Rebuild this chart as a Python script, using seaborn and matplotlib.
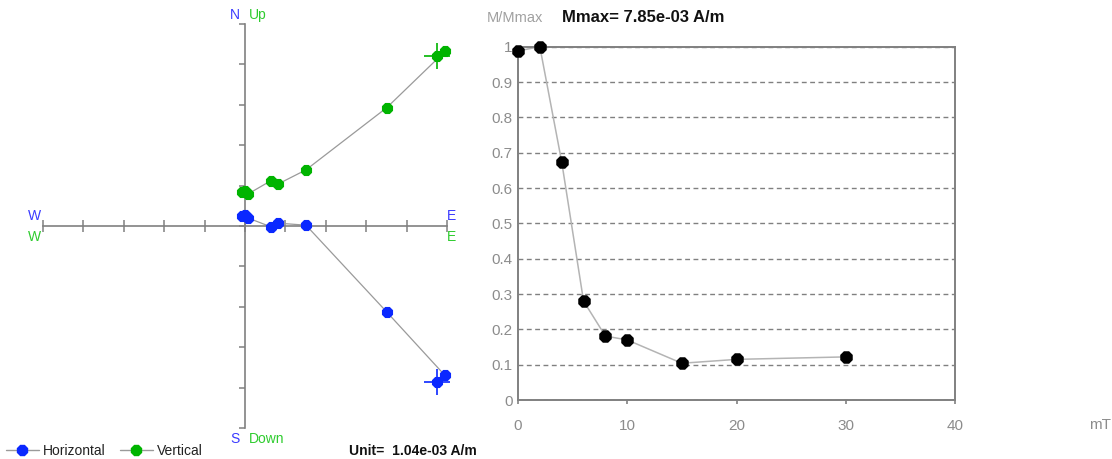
import numpy as np
import pandas as pd
import seaborn as sns
import matplotlib.pyplot as plt
from matplotlib.lines import Line2D

# demagnetisation steps (mT) and normalised intensity
steps_mt = [0, 2, 4, 6, 8, 10, 15, 20, 30]
m_norm = [0.988, 1.0, 0.674, 0.280, 0.181, 0.170, 0.104, 0.115, 0.122]

# Zijderveld components, in units of 1.04e-03 A/m
east = [4.75, 4.95, 3.51, 1.51, 0.82, 0.64, 0.07, -0.07, 0.0]
north = [-3.87, -3.70, -2.13, 0.02, 0.07, -0.02, 0.20, 0.25, 0.27]
up = [4.22, 4.32, 2.93, 1.39, 1.04, 1.12, 0.79, 0.84, 0.87]

zij_ticks = list(range(-5, 6))
y_ticks = [0, 0.1, 0.2, 0.3, 0.4, 0.5, 0.6, 0.7, 0.8, 0.9, 1]
x_ticks = [0, 10, 20, 30, 40]

sns.set_style('white')
plt.rcParams['font.family'] = ['Liberation Sans', 'DejaVu Sans']

blue = '#0a28ff'
green = '#00b400'
lab_blue = '#3a3aff'
lab_green = '#2ecc2e'
axis_gray = '#808080'
line_gray = '#9a9a9a'
tick_gray = '#8c8c8c'

W, H = 1112, 459
fig = plt.figure(figsize=(W / 100, H / 100), dpi=100)

# ---- Zijderveld diagram ----
zij = pd.DataFrame({'step': steps_mt, 'east': east, 'north': north, 'up': up})
ax1 = fig.add_axes([43 / W, 31 / H, 404 / W, 404 / H])
for col, c in [('north', blue), ('up', green)]:
    sns.lineplot(data=zij, x='east', y=col, sort=False, estimator=None,
                 color=line_gray, lw=0.9, ax=ax1, zorder=2)
    sns.scatterplot(data=zij, x='east', y=col, color=c, marker='8', s=75,
                    linewidth=0, ax=ax1, zorder=3, clip_on=False)
    ax1.plot(zij['east'].iloc[0], zij[col].iloc[0], marker='+', ms=19,
             mew=1.2, color=c, zorder=4, clip_on=False)

ax1.set_xlim(-5, 5)
ax1.set_ylim(-5, 5)
ax1.set_xlabel('')
ax1.set_ylabel('')
for s in ['top', 'right']:
    ax1.spines[s].set_visible(False)
for s in ['left', 'bottom']:
    ax1.spines[s].set_position(('data', 0))
    ax1.spines[s].set_color(axis_gray)
    ax1.spines[s].set_linewidth(1.2)
ax1.set_xticks(zij_ticks)
ax1.set_yticks(zij_ticks)
ax1.set_xticklabels([])
ax1.set_yticklabels([])
ax1.tick_params(axis='x', bottom=True, direction='inout', length=8, width=1.1,
                color=axis_gray)
ax1.tick_params(axis='y', left=True, direction='out', length=4.5, width=1.1,
                color=axis_gray)

fs = 10
ax1.text(-0.25, 5.05, 'N', color=lab_blue, fontsize=fs, ha='center', va='bottom')
ax1.text(0.1, 5.05, 'Up', color=lab_green, fontsize=fs, ha='left', va='bottom')
ax1.text(-5.22, 0.25, 'W', color=lab_blue, fontsize=fs, ha='center', va='center')
ax1.text(-5.22, -0.27, 'W', color=lab_green, fontsize=fs, ha='center', va='center')
ax1.text(5.12, 0.25, 'E', color=lab_blue, fontsize=fs, ha='center', va='center')
ax1.text(5.12, -0.27, 'E', color=lab_green, fontsize=fs, ha='center', va='center')
ax1.text(-0.25, -5.27, 'S', color=lab_blue, fontsize=fs, ha='center', va='center')
ax1.text(0.1, -5.27, 'Down', color=lab_green, fontsize=fs, ha='left', va='center')

handles = [Line2D([], [], color=line_gray, lw=1, marker='8', ms=8, mfc=blue, mec=blue),
           Line2D([], [], color=line_gray, lw=1, marker='8', ms=8, mfc=green, mec=green)]
fig.legend(handles, ['Horizontal', 'Vertical'], loc='center left',
           bbox_to_anchor=(0.0, 1 - 451 / H), ncol=2, frameon=False, fontsize=10,
           handlelength=2.4, handletextpad=0.3, columnspacing=1.0, borderaxespad=0,
           labelcolor='#222222')
fig.text(477 / W, 1 - 451 / H, 'Unit=  1.04e-03 A/m', fontsize=10, fontweight='bold',
         ha='right', va='center', color='#111111')

# ---- intensity decay curve ----
ax2 = fig.add_axes([518 / W, 59 / H, 437 / W, 353.3 / H])
sns.lineplot(x=steps_mt, y=m_norm, color='#b4b4b4', lw=1.1, ax=ax2, zorder=2)
sns.scatterplot(x=steps_mt, y=m_norm, color='black', marker='8', s=95,
                linewidth=0, ax=ax2, zorder=3, clip_on=False)
ax2.set_xlim(0, 40)
ax2.set_ylim(0, 1)
ax2.set_yticks(y_ticks)
ax2.set_yticklabels([f'{v:g}' for v in y_ticks])
ax2.set_xticks(x_ticks)
ax2.set_xticklabels([str(v) for v in x_ticks])
ax2.grid(axis='y', color=axis_gray, ls=(0, (3.5, 2.5)), lw=1.0)
ax2.set_axisbelow(True)
for s in ax2.spines.values():
    s.set_visible(True)
    s.set_color(axis_gray)
    s.set_linewidth(1.4)
ax2.tick_params(axis='y', length=0, pad=4, labelsize=11, labelcolor=tick_gray)
ax2.tick_params(axis='x', bottom=True, direction='out', length=3, width=1.2,
                color=axis_gray, pad=11, labelsize=11, labelcolor=tick_gray)

fig.text(1100 / W, 1 - 425 / H, 'mT', fontsize=11, color=tick_gray, ha='center', va='center')
fig.text(487 / W, 1 - 18 / H, 'M/Mmax', fontsize=10.5, color='#a0a0a0', ha='left', va='center')
fig.text(562 / W, 1 - 18 / H, 'Mmax= 7.85e-03 A/m', fontsize=12, fontweight='bold',
         color='#111111', ha='left', va='center')

fig.savefig('out.png', dpi=100)
